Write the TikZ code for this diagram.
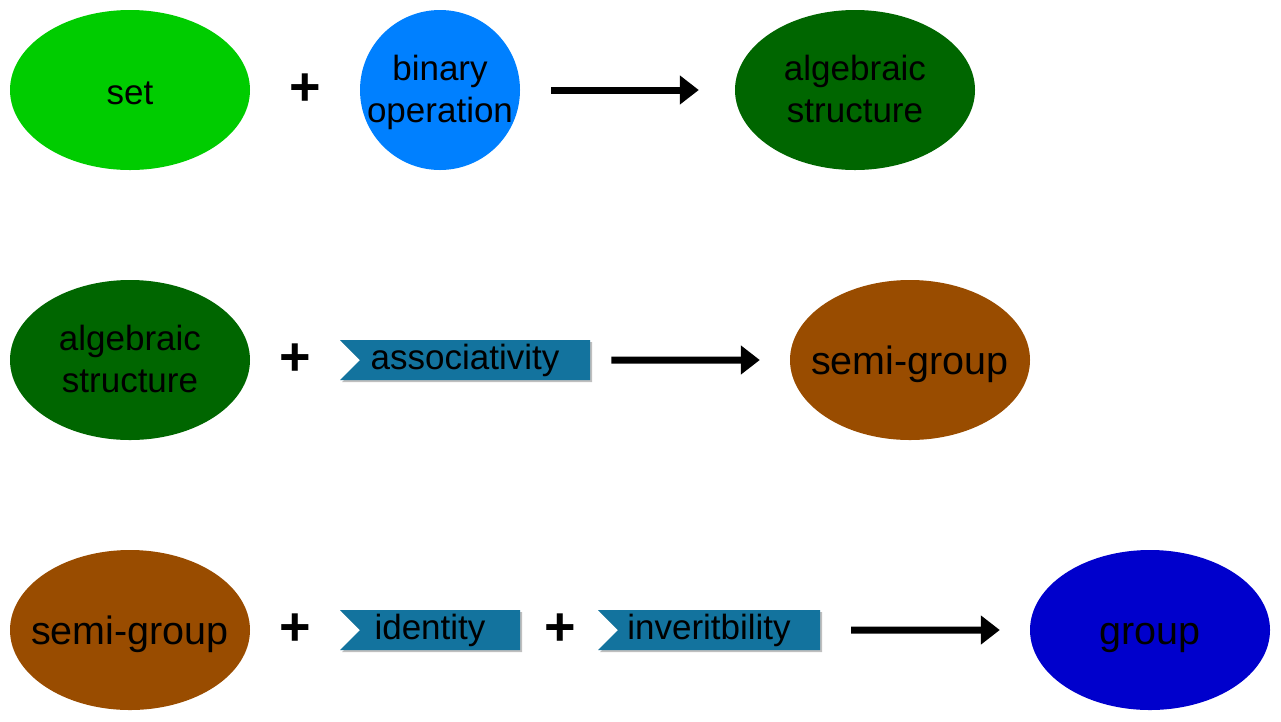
\documentclass[tikz,border=0pt]{standalone}
\usepackage{fontspec}
\setmainfont{Liberation Sans}
\usetikzlibrary{shapes.geometric,shapes.symbols,shadows,arrows.meta}

\definecolor{setgreen}{RGB}{0,204,0}
\definecolor{opblue}{RGB}{0,128,255}
\definecolor{algreen}{RGB}{0,102,0}
\definecolor{semibrown}{RGB}{153,76,0}
\definecolor{groupblue}{RGB}{0,0,204}
\definecolor{tagblue}{RGB}{19,115,158}

\newcommand{\thin}[1]{\makebox[0pt]{#1}}

\tikzset{
  blob/.style={ellipse, minimum width=240pt, minimum height=160pt, inner sep=0pt,
    align=center, font=\fontsize{35}{42}\selectfont, text height=32pt, text depth=4pt},
  twoline/.style={text height=70pt, text depth=6pt},
  bigtext/.style={font=\fontsize{39.5}{46}\selectfont, text height=34pt, text depth=6pt},
  tag/.style={signal, signal from=west, signal to=nowhere, fill=tagblue,
    minimum height=40pt, inner sep=0pt, font=\fontsize{35}{41}\selectfont,
    text height=26pt, text depth=8pt,
    drop shadow={shadow xshift=2pt, shadow yshift=-2pt, fill=black!25, opacity=1}},
  plus/.style={font=\fontsize{54}{54}\selectfont\bfseries},
  yields/.style={-{Triangle[length=19pt,width=28pt]}, line width=7pt,
    shorten <=31pt, shorten >=30pt}
}

\begin{document}
\begin{tikzpicture}[x=1pt, y=-1pt]
  \useasboundingbox (0,0) rectangle (1281,721);

  % set + binary operation -> algebraic structure
  \node[blob, fill=setgreen] (set) at (130,90) {set};
  \node[plus] (plusA) at (305,90) {+};
  \node[blob, twoline, circle, fill=opblue, minimum size=160pt] (binop) at (440,90)
    {\thin{binary}\\\thin{operation}};
  \node[blob, twoline, fill=algreen] (algA) at (855,90) {algebraic\\structure};
  \path (binop) edge[yields, shorten >=36pt] (algA);

  % algebraic structure + associativity -> semi-group
  \node[blob, twoline, fill=algreen] (algB) at (130,360) {algebraic\\structure};
  \node[plus] (plusB) at (295,360) {+};
  \node[tag, minimum width=250pt] (assoc) at (475,360) {\hspace*{-20pt}associativity};
  \node[blob, bigtext, fill=semibrown] (semiA) at (910,360) {\thin{semi-group}};
  \path (assoc) edge[yields, shorten <=21pt] (semiA);

  % semi-group + identity + inveritbility -> group
  \node[blob, bigtext, fill=semibrown] (semiB) at (130,630) {\thin{semi-group}};
  \node[plus] (plusC) at (295,630) {+};
  \node[tag, minimum width=180pt] (ident) at (440,630) {\hspace*{-20pt}identity};
  \node[plus] (plusD) at (560,630) {+};
  \node[tag, minimum width=222pt] (invert) at (719,630) {\hspace*{-20pt}inveritbility};
  \node[blob, bigtext, fill=groupblue] (group) at (1150,630) {group};
  \path (invert) edge[yields] (group);
\end{tikzpicture}
\end{document}
